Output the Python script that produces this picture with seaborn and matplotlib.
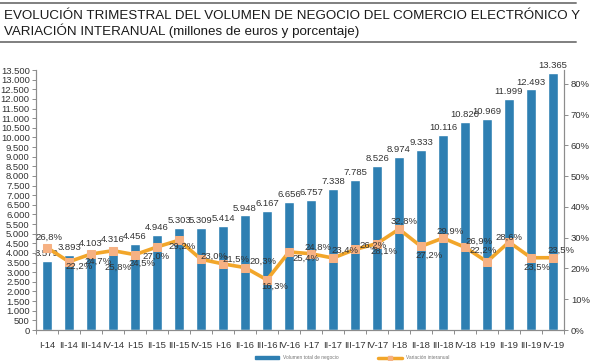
import numpy as np
import matplotlib
matplotlib.use("Agg")
import matplotlib.pyplot as plt
import seaborn as sns
from matplotlib.lines import Line2D
from matplotlib.patches import Patch
from matplotlib.ticker import FuncFormatter, MultipleLocator

# data
quarters = ["I-14", "II-14", "III-14", "IV-14", "I-15", "II-15", "III-15", "IV-15",
            "I-16", "II-16", "III-16", "IV-16", "I-17", "II-17", "III-17", "IV-17",
            "I-18", "II-18", "III-18", "IV-18", "I-19", "II-19", "III-19", "IV-19"]
volumen = [3579, 3893, 4103, 4316, 4456, 4946, 5303, 5309,
           5414, 5948, 6167, 6656, 6757, 7338, 7785, 8526,
           8974, 9333, 10116, 10820, 10969, 11999, 12493, 13365]
variacion = [26.8, 22.2, 24.7, 25.8, 24.5, 27.0, 29.2, 23.0,
             21.5, 20.3, 16.3, 25.4, 24.8, 23.4, 26.2, 28.1,
             32.8, 27.2, 29.9, 26.9, 22.2, 28.6, 23.5, 23.5]

# where each percentage label sits relative to its marker (pixels)
pct_offsets = [(2, 10), (10, -5), (7, -7), (5, -17), (7, -9), (-1, -9), (3, -6), (13, 3),
               (13, 5), (18, 6), (8, -6), (17, -6), (7, 6), (12, 8), (18, 4), (7, -8),
               (5, 8), (8, -9), (7, 7), (14, 6), (-4, 11), (0, 5), (6, -10), (8, 7)]

BLUE = "#2E7FB2"
ORANGE = "#F2A62A"
MARKER = "#F6B183"
TXT = "#333333"

sns.set_theme(style="white")
plt.rcParams["font.family"] = ["Liberation Sans", "DejaVu Sans"]

fig = plt.figure(figsize=(6, 3.61), dpi=100)
ax = fig.add_axes([36 / 600, 1 - 330 / 361, 528 / 600, 260 / 361])

sns.barplot(x=quarters, y=volumen, ax=ax, color=BLUE, width=0.42, saturation=1)
ax.set_xlim(-0.5, len(quarters) - 0.5)
ax.set_ylim(0, 13500)
ax.yaxis.set_major_locator(MultipleLocator(500))
ax.yaxis.set_major_formatter(FuncFormatter(lambda v, p: f"{int(v):,}".replace(",", ".")))
ax.set_xlabel("")
ax.set_ylabel("")

for i, v in enumerate(volumen):
    ax.annotate(f"{v:,}".replace(",", "."), (i, v), xytext=(0, 2), textcoords="offset points",
                ha="center", va="bottom", fontsize=6.8, color=TXT)

ax2 = ax.twinx()
x = np.arange(len(quarters))
sns.lineplot(x=x, y=variacion, ax=ax2, color=ORANGE, linewidth=2.6, sort=False,
             marker="s", markersize=6, markerfacecolor=MARKER, markeredgecolor=MARKER)
ax2.set_ylim(0, 84.55)
ax2.yaxis.set_major_locator(MultipleLocator(10))
ax2.yaxis.set_major_formatter(FuncFormatter(lambda v, p: f"{int(v)}%"))
ax2.set_ylabel("")

for i, (v, off) in enumerate(zip(variacion, pct_offsets)):
    ax2.annotate(f"{v:.1f}%".replace(".", ","), (i, v), xytext=off, textcoords="offset pixels",
                 ha="center", va="center", fontsize=6.8, color=TXT)

# axes styling, excel look
for a in (ax, ax2):
    a.spines["top"].set_visible(False)
    for s in ("left", "right", "bottom"):
        a.spines[s].set_color("#8c8c8c")
        a.spines[s].set_linewidth(0.8)
ax.tick_params(axis="y", which="both", left=True, length=3, width=0.7, color="#8c8c8c",
               labelsize=6.8, labelcolor=TXT, pad=1.5)
ax2.tick_params(axis="y", right=True, length=3, width=0.7, color="#8c8c8c",
                labelsize=6.8, labelcolor=TXT, pad=2)
ax.set_xticks(x)
ax.set_xticklabels(quarters)
ax.set_xticks(np.arange(-0.5, len(quarters)), minor=True)
ax.tick_params(axis="x", which="major", bottom=False, labelsize=6.8, labelcolor=TXT, pad=2)
ax.tick_params(axis="x", which="minor", bottom=True, length=3, width=0.7, color="#8c8c8c")

# title with rules above and below
fig.text(4 / 600, 1 - 16 / 361,
         "EVOLUCIÓN TRIMESTRAL DEL VOLUMEN DE NEGOCIO DEL COMERCIO ELECTRÓNICO Y",
         fontsize=9.6, color="#1a1a1a", va="center", ha="left")
fig.text(4 / 600, 1 - 31 / 361, "VARIACIÓN INTERANUAL (millones de euros y porcentaje)",
         fontsize=9.6, color="#1a1a1a", va="center", ha="left")
for yy in (3, 42):
    fig.add_artist(Line2D([0, 576 / 600], [1 - yy / 361] * 2, color="#7f7f7f", linewidth=1.4))

handles = [Patch(facecolor=BLUE, edgecolor=BLUE, label="Volumen total de negocio"),
           Line2D([], [], color=ORANGE, linewidth=2.5, marker="s", markersize=3,
                  markerfacecolor=MARKER, markeredgecolor=MARKER, label="Variación interanual")]
fig.legend(handles=handles, loc="lower center", bbox_to_anchor=(0.587, -0.008), ncol=2,
           frameon=False, fontsize=3.5, handlelength=5, handleheight=0.6,
           columnspacing=8, labelcolor="#777777", borderpad=0.2)

fig.savefig("out.png", dpi=100)
